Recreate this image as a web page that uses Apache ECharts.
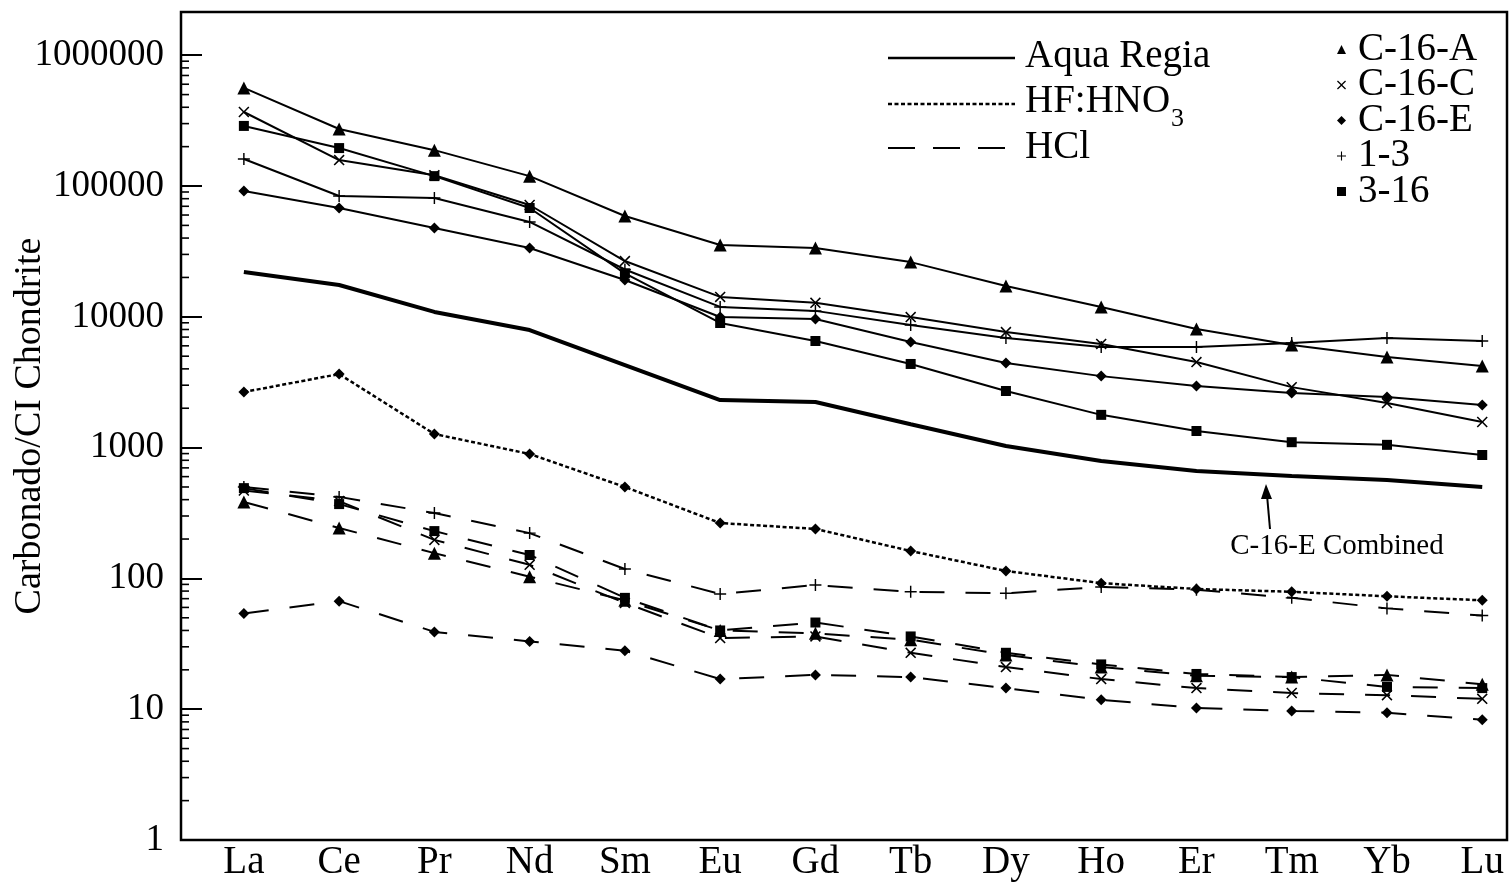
<!DOCTYPE html>
<html>
<head>
<meta charset="utf-8">
<title>Carbonado REE</title>
<script src="https://cdn.jsdelivr.net/npm/echarts@6/dist/echarts.min.js"></script>
<style>
html, body { margin: 0; padding: 0; background: #fff; }
#main { width: 1509px; height: 883px; }
</style>
</head>
<body>
<div id="main"></div>
<script>
const elements = ['La', 'Ce', 'Pr', 'Nd', 'Sm', 'Eu', 'Gd', 'Tb', 'Dy', 'Ho', 'Er', 'Tm', 'Yb', 'Lu'];
const yTicks = [1, 10, 100, 1000, 10000, 100000, 1000000];

// Aqua Regia leach
const aquaC16A = [562000, 273000, 188000, 119000, 59000, 35400, 33600, 26200, 17200, 11900, 8070, 6080, 4930, 4200];
const aquaC16C = [368000, 158000, 121000, 71600, 26700, 14200, 12800, 9960, 7650, 6200, 4510, 2900, 2190, 1570];
const aquaC16E = [91600, 67900, 47700, 33600, 19100, 9960, 9620, 6420, 4430, 3520, 2960, 2610, 2440, 2120];
const aqua13 = [161000, 83900, 80900, 53100, 23000, 11900, 11100, 8650, 6880, 5880, 5880, 6300, 6880, 6530];
const aqua316 = [288000, 195000, 119000, 67900, 21500, 8970, 6530, 4360, 2710, 1780, 1340, 1100, 1050, 878];
const combinedC16E = [22000, 17500, 10900, 7920, 4280, 2310, 2230, 1510, 1030, 789, 662, 607, 565, 500];

// HF:HNO3 leach
const hfC16E = [2660, 3650, 1270, 894, 500, 265, 239, 162, 114, 92, 83, 79, 73, 68];

// HCl leach
const hclC16A = [384, 243, 156, 103, 68, 40, 38, 34, 26, 21, 18, 17.6, 18.3, 15.5];
const hclC16C = [470, 390, 197, 127, 65, 35, 36, 27, 21, 17, 14.5, 13.3, 12.8, 12];
const hclC16E = [54, 67, 39, 33, 28, 17, 18.3, 17.6, 14.5, 11.8, 10.2, 9.7, 9.4, 8.3];
const hcl13 = [500, 420, 316, 222, 118, 76, 89, 79, 77, 86, 82, 71, 59, 52];
const hcl316 = [490, 370, 230, 151, 71, 40, 46, 36, 27, 22, 18.6, 17.6, 14.8, 14.5];

const FONT = "'Liberation Serif', 'Times New Roman', serif";
const CROSS = 'path://M10,0L50,40L90,0L100,10L60,50L100,90L90,100L50,60L10,100L0,90L40,50L0,10Z';
const PLUS = 'path://M44,0H56V44H100V56H56V100H44V56H0V44H44Z';
const DIAMOND = 'path://M50,0L100,50L50,100L0,50Z';

const marks = {
  'C-16-A': ['triangle', 13],
  'C-16-C': [CROSS, 11],
  'C-16-E': [DIAMOND, 11],
  '1-3': [PLUS, 12],
  '3-16': ['rect', 10]
};
const styles = {
  aqua: { type: 'solid', width: 2 },
  hf: { type: [4, 2.5], width: 2.5 },
  hcl: { type: [25, 21], width: 2 }
};

function mk(name, values, method) {
  return {
    name: name,
    type: 'line',
    data: values.map((v, i) => [i, v]),
    symbol: marks[name][0],
    symbolSize: marks[name][1],
    showSymbol: true,
    itemStyle: { color: '#000' },
    lineStyle: Object.assign({ color: '#000' }, styles[method]),
    emphasis: { disabled: true }
  };
}

const series = [
  mk('C-16-A', aquaC16A, 'aqua'),
  mk('C-16-C', aquaC16C, 'aqua'),
  mk('C-16-E', aquaC16E, 'aqua'),
  mk('1-3', aqua13, 'aqua'),
  mk('3-16', aqua316, 'aqua'),
  {
    name: 'C-16-E Combined',
    type: 'line',
    data: combinedC16E.map((v, i) => [i, v]),
    symbol: 'none',
    lineStyle: { color: '#000', width: 4 }
  },
  mk('C-16-E', hfC16E, 'hf'),
  mk('C-16-A', hclC16A, 'hcl'),
  mk('C-16-C', hclC16C, 'hcl'),
  mk('C-16-E', hclC16E, 'hcl'),
  mk('1-3', hcl13, 'hcl'),
  mk('3-16', hcl316, 'hcl')
];

const chart = echarts.init(document.getElementById('main'));
chart.setOption({
  animation: false,
  backgroundColor: '#fff',
  grid: {
    left: 181, right: 2, top: 12, bottom: 43,
    containLabel: false, outerBoundsMode: 'none',
    show: true, borderColor: '#000', borderWidth: 2.5
  },
  xAxis: {
    type: 'value',
    min: -0.66,
    max: 13.26,
    axisLine: { show: false, onZero: false },
    axisTick: { show: false },
    splitLine: { show: false },
    axisLabel: {
      customValues: elements.map((e, i) => i),
      formatter: v => elements[Math.round(v)],
      color: '#000', fontFamily: FONT, fontSize: 39, margin: 3
    }
  },
  yAxis: {
    type: 'log',
    logBase: 10,
    min: 1,
    max: 2140000,
    name: 'Carbonado/CI Chondrite',
    nameLocation: 'middle',
    nameGap: 132,
    nameMoveOverlap: false,
    nameTextStyle: { color: '#000', fontFamily: FONT, fontSize: 38 },
    axisLine: { show: false, onZero: false },
    axisTick: { show: true, inside: true, length: 21, customValues: yTicks, lineStyle: { color: '#000', width: 2 } },
    splitLine: { show: false },
    axisLabel: {
      customValues: yTicks,
      formatter: v => String(Math.round(v)),
      color: '#000', fontFamily: FONT, fontSize: 37, margin: 17
    }
  },
  legend: {
    orient: 'vertical',
    left: 1332,
    top: 25,
    itemWidth: 9,
    itemHeight: 9,
    itemGap: -3.5,
    selectedMode: false,
    data: [
      { name: 'C-16-A', icon: 'triangle' },
      { name: 'C-16-C', icon: CROSS },
      { name: 'C-16-E', icon: DIAMOND },
      { name: '1-3', icon: PLUS },
      { name: '3-16', icon: 'rect' }
    ],
    itemStyle: { color: '#000', borderWidth: 0 },
    lineStyle: { width: 0 },
    textStyle: { color: '#000', fontFamily: FONT, fontSize: 39, padding: [0, 0, 0, 7] }
  },
  series: series
});

// minor log ticks at 2..9 of each decade, placed through the y scale
const gfx = [];
for (let d = 0; d < 6; d++) {
  for (let k = 2; k <= 9; k++) {
    const y = chart.convertToPixel({ yAxisIndex: 0 }, k * Math.pow(10, d));
    gfx.push({ type: 'line', shape: { x1: 181, y1: y, x2: 189, y2: y }, style: { stroke: '#000', lineWidth: 1.6 } });
  }
}

// method legend
const txt = { fill: '#000', fontFamily: FONT, fontSize: 39, verticalAlign: 'middle' };
gfx.push(
  { type: 'line', shape: { x1: 888, y1: 58, x2: 1015, y2: 58 }, style: { stroke: '#000', lineWidth: 2.5 } },
  { type: 'text', x: 1025, y: 57, style: Object.assign({ text: 'Aqua Regia' }, txt) },
  { type: 'line', shape: { x1: 888, y1: 104, x2: 1015, y2: 104 }, style: { stroke: '#000', lineWidth: 2.5, lineDash: [4, 2.5] } },
  { type: 'text', x: 1025, y: 102, style: Object.assign({ text: 'HF:HNO' }, txt) },
  { type: 'text', x: 1171, y: 119, style: Object.assign({}, txt, { text: '3', fontSize: 26 }) },
  { type: 'line', shape: { x1: 888, y1: 148, x2: 1005, y2: 148 }, style: { stroke: '#000', lineWidth: 2, lineDash: [27, 18] } },
  { type: 'text', x: 1025, y: 148, style: Object.assign({ text: 'HCl' }, txt) }
);

// annotation for the combined curve
gfx.push(
  { type: 'line', shape: { x1: 1270, y1: 529, x2: 1267, y2: 495 }, style: { stroke: '#000', lineWidth: 2 } },
  { type: 'polygon', shape: { points: [[1266, 484], [1261, 499], [1272, 499]] }, style: { fill: '#000' } },
  { type: 'text', x: 1337, y: 546, style: { text: 'C-16-E Combined', fill: '#000', fontFamily: FONT, fontSize: 29, align: 'center', verticalAlign: 'middle' } }
);

chart.setOption({ graphic: gfx });
</script>
</body>
</html>
